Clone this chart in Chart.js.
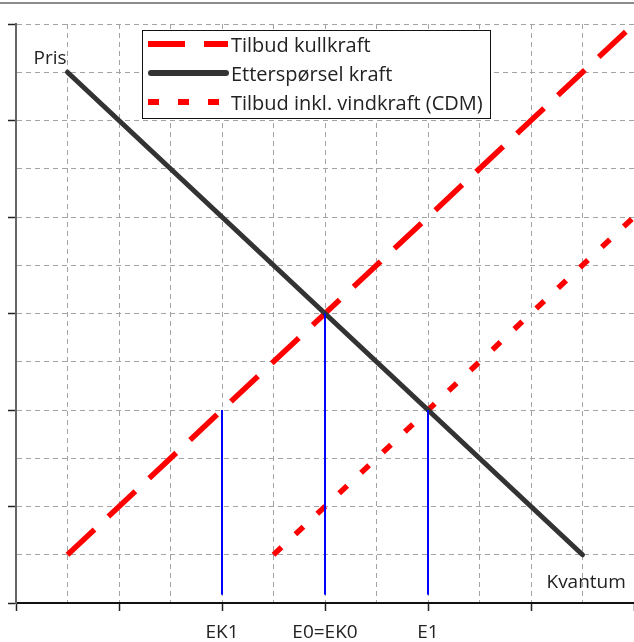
<!DOCTYPE html>
<html>
<head>
<meta charset="utf-8">
<script src="https://cdn.jsdelivr.net/npm/chart.js@4/dist/chart.umd.min.js"></script>
<style>
  html, body { margin: 0; padding: 0; background: #fff; }
  #c { display: block; }
</style>
</head>
<body>
<canvas id="c" width="634" height="642"></canvas>
<script>
// ---- data ----
const seriesNames = ['Tilbud kullkraft', 'Etterspørsel kraft', 'Tilbud inkl. vindkraft (CDM)'];
const coalX = [1, 12];
const coalY = [1, 12];
const demandX = [1, 11];
const demandY = [11, 1];
const windX = [5, 12];
const windY = [1, 8];
const eqX = [4, 6, 8];
const eqY = [4, 6, 4];
const eqBase = 0.17;
const tickValues = [4, 6, 8];
const tickLabels = ['EK1', 'E0=EK0', 'E1'];
const yAxisLabel = 'Pris';
const xAxisLabel = 'Kvantum';

const FONT = '"Open Sans", "DejaVu Sans", sans-serif';
const pts = (xs, ys) => xs.map((x, i) => ({ x: x, y: ys[i] }));

const datasets = [
  { label: seriesNames[0], data: pts(coalX, coalY), borderColor: '#ff0000', borderWidth: 5.5,
    borderDash: [37, 19], borderCapStyle: 'butt', order: 3, legend: true },
  { label: seriesNames[1], data: pts(demandX, demandY), borderColor: '#333333', borderWidth: 5,
    borderCapStyle: 'round', order: 1, legend: true },
  { label: seriesNames[2], data: pts(windX, windY), borderColor: '#ff0000', borderWidth: 5.5,
    borderDash: [11, 19], borderCapStyle: 'butt', order: 2, legend: true }
];
eqX.forEach((x, i) => {
  datasets.push({ label: 'eq' + i, data: pts([x, x], [eqBase, eqY[i]]), borderColor: '#0000ff',
    borderWidth: 2, order: 0, legend: false });
});
datasets.forEach(d => { d.pointRadius = 0; d.showLine = true; d.fill = false; d.tension = 0; });

const decorPlugin = {
  id: 'decor',
  beforeDraw(chart) {
    const ctx = chart.ctx;
    ctx.save();
    ctx.strokeStyle = '#8c8c8c';
    ctx.lineWidth = 2;
    ctx.beginPath();
    ctx.moveTo(0, 3);
    ctx.lineTo(chart.width, 3);
    ctx.stroke();
    ctx.restore();
  },
  afterDraw(chart) {
    const ctx = chart.ctx;
    const xs = chart.scales.x, ys = chart.scales.y;
    ctx.save();
    ctx.font = '19px ' + FONT;
    ctx.fillStyle = '#222';
    ctx.textBaseline = 'alphabetic';
    ctx.textAlign = 'right';
    ctx.fillText(yAxisLabel, xs.getPixelForValue(demandX[0]) - 1, ys.getPixelForValue(demandY[0]) - 8);
    ctx.textAlign = 'left';
    ctx.fillText(xAxisLabel, xs.getPixelForValue(demandX[1]) - 36, ys.getPixelForValue(demandY[1]) + 33);

    // legend
    const bx = 142.5, by = 30.5, bw = 348, bh = 88;
    ctx.fillStyle = '#fff';
    ctx.fillRect(bx, by, bw, bh);
    ctx.strokeStyle = '#111';
    ctx.lineWidth = 1;
    ctx.strokeRect(bx, by, bw, bh);
    ctx.font = '20px ' + FONT;
    const legendItems = chart.data.datasets.filter(d => d.legend);
    legendItems.forEach((d, i) => {
      const y = 44 + i * 29;
      ctx.save();
      ctx.strokeStyle = d.borderColor;
      ctx.lineWidth = 6;
      ctx.lineCap = d.borderCapStyle === 'round' ? 'round' : 'butt';
      ctx.setLineDash(d.borderDash || []);
      ctx.beginPath();
      ctx.moveTo(d.borderCapStyle === 'round' ? 151 : 148, y);
      ctx.lineTo(d.borderCapStyle === 'round' ? 226 : 228, y);
      ctx.stroke();
      ctx.restore();
      ctx.fillStyle = '#222';
      ctx.textAlign = 'left';
      ctx.textBaseline = 'middle';
      ctx.fillText(d.label, 231, y + 2);
    });
    ctx.restore();
  }
};

new Chart(document.getElementById('c'), {
  type: 'scatter',
  data: { datasets: datasets },
  plugins: [decorPlugin],
  options: {
    responsive: false,
    animation: false,
    events: [],
    layout: { padding: { top: 24, right: 0, left: 0, bottom: 0 } },
    plugins: { legend: { display: false }, tooltip: { enabled: false } },
    scales: {
      x: {
        type: 'linear', min: 0, max: 12,
        afterFit(s) { s.height = 39; s.paddingLeft = 0; s.paddingRight = 0; },
        ticks: {
          stepSize: 1, autoSkip: false, maxRotation: 0, padding: 10,
          color: '#222', font: { family: FONT, size: 19 },
          callback(v) { const i = tickValues.indexOf(v); return i >= 0 ? tickLabels[i] : ''; }
        },
        grid: {
          color: c => (c.tick && c.tick.value > 0) ? '#a3a3a3' : 'rgba(0,0,0,0)',
          lineWidth: 1,
          tickLength: 8,
          tickWidth: 1.5,
          tickColor: c => (c.tick && c.tick.value % 2 === 0) ? '#222' : 'rgba(0,0,0,0)'
        },
        border: { display: true, color: '#111', width: 2, dash: [5, 4] }
      },
      y: {
        type: 'linear', min: 0, max: 12,
        afterFit(s) { s.width = 16; s.paddingTop = 0; s.paddingBottom = 0; },
        ticks: { stepSize: 1, display: false },
        grid: {
          color: c => (c.tick && c.tick.value > 0) ? '#a3a3a3' : 'rgba(0,0,0,0)',
          lineWidth: 1,
          tickLength: 8,
          tickWidth: 1.5,
          tickColor: c => (c.tick && c.tick.value % 2 === 0) ? '#222' : 'rgba(0,0,0,0)'
        },
        border: { display: true, color: '#666', width: 2, dash: [5, 4] }
      }
    }
  }
});
</script>
</body>
</html>
